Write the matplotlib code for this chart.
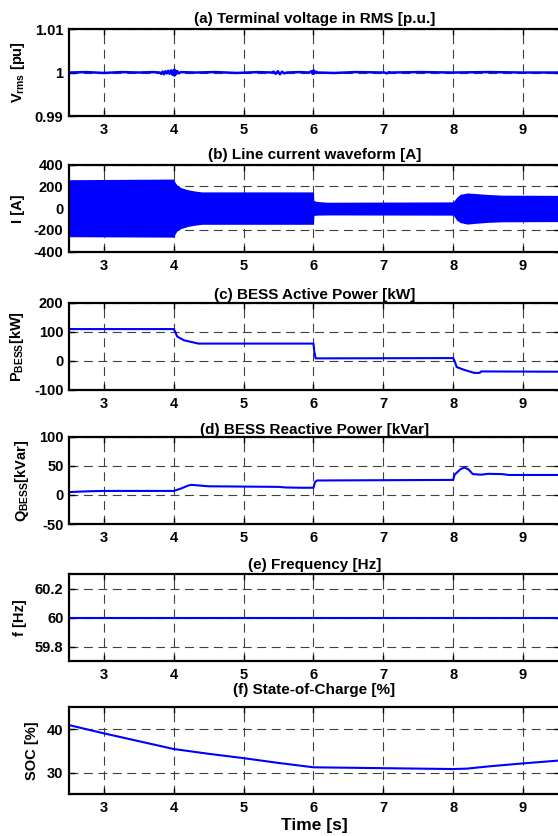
import matplotlib
matplotlib.use("Agg")
import matplotlib.pyplot as plt

plt.rcParams['font.family'] = ['Liberation Sans', 'DejaVu Sans']
plt.rcParams['font.weight'] = 'bold'
plt.rcParams['axes.unicode_minus'] = False
plt.rcParams['mathtext.fontset'] = 'custom'
plt.rcParams['mathtext.rm'] = 'Liberation Sans:bold'
plt.rcParams['mathtext.it'] = 'Liberation Sans:bold'
plt.rcParams['mathtext.bf'] = 'Liberation Sans:bold'
plt.rcParams['mathtext.default'] = 'rm'

# (a) terminal voltage RMS [pu]
va_t = [2.5, 2.75, 3.0, 3.25, 3.5, 3.7, 3.8, 3.82, 3.84, 3.86, 3.88, 3.90, 3.92, 3.94,
        3.96, 3.98, 4.00, 4.01, 4.02, 4.03, 4.05, 4.07, 4.10, 4.3, 4.6, 4.9, 5.2, 5.40,
        5.43, 5.46, 5.49, 5.52, 5.55, 5.58, 5.62, 5.8, 5.94, 5.97, 5.99, 6.00, 6.01,
        6.03, 6.06, 6.3, 6.6, 7.02, 7.05, 7.08, 7.1, 7.5, 8.0, 8.5, 9.0, 9.55]
va_v = [1.0, 1.0001, 0.9999, 1.0001, 1.0, 1.0001, 1.0, 0.9997, 1.0002, 0.9996, 1.0003,
        0.9998, 1.0004, 0.9997, 1.0005, 0.9995, 1.0006, 0.9993, 1.0005, 0.9996, 1.0003,
        0.9998, 1.0001, 1.0, 1.0001, 0.9999, 1.0001, 1.0, 1.0002, 0.9997, 1.0003,
        0.9996, 1.0002, 0.9998, 1.0, 1.0001, 1.0, 1.0003, 0.9997, 1.0005, 0.9998,
        1.0002, 1.0, 0.9999, 1.0001, 1.0, 0.9998, 1.0001, 1.0, 1.0001, 1.0, 1.0001,
        1.0, 1.0]

# (b) line current envelope [A]
ib_t = [2.5, 4.0, 4.02, 4.05, 4.1, 4.2, 4.3, 4.4, 6.0, 6.005, 6.05, 6.2, 8.0, 8.05,
        8.1, 8.2, 8.3, 8.5, 8.7, 9.55]
ib_up = [262, 268, 235, 212, 190, 170, 158, 150, 150, 70, 62, 55, 58, 100, 128, 140,
         136, 126, 120, 118]
ib_lo = [-262, -266, -235, -206, -188, -168, -156, -148, -148, -66, -64, -62, -64,
         -110, -132, -146, -140, -130, -125, -123]

# (c) BESS active power [kW]
pc_t = [2.5, 4.0, 4.02, 4.05, 4.15, 4.3, 4.35, 6.0, 6.01, 6.03, 8.0, 8.02, 8.05,
        8.15, 8.3, 8.38, 8.4, 9.55]
pc_v = [110, 110, 100, 84, 71, 63, 60, 60, 35, 9, 10, 0, -21, -30, -41, -41, -36, -37]

# (d) BESS reactive power [kVar]
qd_t = [2.5, 2.6, 2.8, 3.0, 3.5, 4.0, 4.1, 4.2, 4.25, 4.3, 4.5, 5.0, 5.5, 5.6, 5.8,
        6.0, 6.02, 6.05, 7.0, 8.0, 8.02, 8.1, 8.16, 8.22, 8.28, 8.4, 8.5, 8.7, 8.8, 9.55]
qd_v = [5, 5.5, 6.5, 7, 7, 7, 11, 16, 17.5, 17, 15, 14.5, 14, 13, 12.5, 12.5, 22, 25,
        25.5, 26, 35, 44, 47.5, 44, 36, 35, 36.5, 36, 34.5, 34.5]

# (e) frequency [Hz]
fe_t = [2.5, 9.55]
fe_v = [60.0, 60.0]

# (f) state of charge [%]
sf_t = [2.5, 3.0, 3.5, 4.0, 4.5, 5.0, 5.5, 6.0, 6.5, 7.0, 7.5, 8.0, 8.2, 8.5, 9.0, 9.55]
sf_v = [40.9, 39.0, 37.2, 35.4, 34.3, 33.3, 32.2, 31.2, 31.1, 31.0, 30.9, 30.8, 30.9,
        31.4, 32.1, 32.8]

xticks = [3, 4, 5, 6, 7, 8, 9]
blue = '#0000ff'

fig = plt.figure(figsize=(5.58, 8.36), dpi=100)

bottoms = [0.8612, 0.6989, 0.5335, 0.3732, 0.2093, 0.0499]
titles = ['(a) Terminal voltage in RMS [p.u.]', '(b) Line current waveform [A]',
          '(c) BESS Active Power [kW]', '(d) BESS Reactive Power [kVar]',
          '(e) Frequency [Hz]', '(f) State-of-Charge [%]']
pads = [4.5, 4.1, 2.9, 2.0, 3.6, 9.4]
ylabels = ['V$_{rms}$ [pu]', 'I [A]', 'P$_{BESS}$[kW]', 'Q$_{BESS}$[kVar]',
           'f [Hz]', 'SOC [%]']

axs = []
for i in range(6):
    ax = fig.add_axes([0.1237, bottoms[i], 0.88, 0.1041])
    axs.append(ax)
    ax.set_xlim(2.5, 9.53)
    ax.set_xticks(xticks)
    ax.set_axisbelow(True)
    ax.grid(True, color='0.25', linestyle=(0, (8, 5)), linewidth=0.8)
    ax.tick_params(direction='in', top=True, right=True, length=4, width=1,
                   labelsize=10.5)
    ax.tick_params(axis='x', pad=5)
    ax.tick_params(axis='y', pad=4)
    for s in ax.spines.values():
        s.set_linewidth(1.6)
    ax.set_title(titles[i], fontsize=11, fontweight='bold', pad=pads[i])
    ax.set_ylabel(ylabels[i], fontsize=10.5, fontweight='bold', labelpad=6)
    for lab in ax.get_xticklabels() + ax.get_yticklabels():
        lab.set_fontweight('bold')

ax = axs[0]
ax.plot(va_t, va_v, color=blue, lw=1.8)
ax.set_ylim(0.99, 1.01)
ax.set_yticks([0.99, 1.0, 1.01])
ax.set_yticklabels(['0.99', '1', '1.01'], fontweight='bold')

ax = axs[1]
ax.fill_between(ib_t, ib_lo, ib_up, color=blue, lw=0)
ax.set_ylim(-400, 400)
ax.set_yticks([-400, -200, 0, 200, 400])

ax = axs[2]
ax.plot(pc_t, pc_v, color=blue, lw=1.5)
ax.set_ylim(-100, 200)
ax.set_yticks([-100, 0, 100, 200])

ax = axs[3]
ax.plot(qd_t, qd_v, color=blue, lw=1.5)
ax.set_ylim(-50, 100)
ax.set_yticks([-50, 0, 50, 100])

ax = axs[4]
ax.plot(fe_t, fe_v, color=blue, lw=1.5)
ax.set_ylim(59.7, 60.3)
ax.set_yticks([59.8, 60.0, 60.2])
ax.set_yticklabels(['59.8', '60', '60.2'], fontweight='bold')

ax = axs[5]
ax.plot(sf_t, sf_v, color=blue, lw=1.5)
ax.set_ylim(25, 45)
ax.set_yticks([30, 40])
ax.set_xlabel('Time [s]', fontsize=12.5, fontweight='bold', labelpad=2)

fig.savefig('out.png', dpi=100)
